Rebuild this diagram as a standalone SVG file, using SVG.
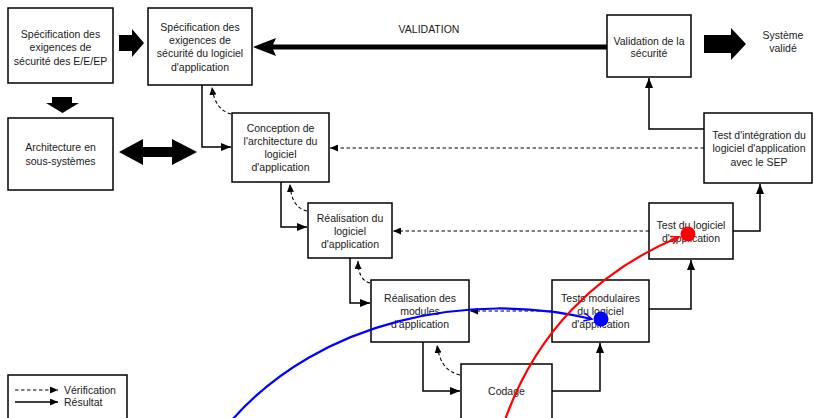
<svg xmlns="http://www.w3.org/2000/svg" width="814" height="418" viewBox="0 0 814 418">
  <style>
    .box { fill: #ffffff; stroke: #000000; stroke-width: 1.5; }
    .lbl { font-family: "Liberation Sans", Arial, Helvetica, sans-serif; font-size: 10.5px; fill: #1a1a1a; text-anchor: middle; }
    .lft { text-anchor: start; }
    .solid { fill: none; stroke: #000000; stroke-width: 1.5; }
    .dash { fill: none; stroke: #000000; stroke-width: 1.1; stroke-dasharray: 3.5 2.5; }
    .big { fill: #000000; stroke: none; }
  </style>
  <defs>
    <marker id="ah" viewBox="0 0 10 8" markerWidth="10" markerHeight="8" refX="10" refY="4" orient="auto" markerUnits="userSpaceOnUse">
      <path d="M0,0 L10,4 L0,8 z" fill="#000000"/>
    </marker>
    <marker id="ahd" viewBox="0 0 8 7" markerWidth="8" markerHeight="7" refX="8" refY="3.5" orient="auto" markerUnits="userSpaceOnUse">
      <path d="M0,0 L8,3.5 L0,7 z" fill="#000000"/>
    </marker>
    <marker id="ahBlue" viewBox="0 0 10 10" markerWidth="10" markerHeight="10" refX="9" refY="5" orient="auto" markerUnits="userSpaceOnUse">
      <path d="M1,1 L9,5 L1,9" fill="none" stroke="#0000ff" stroke-width="1.5"/>
    </marker>
    <marker id="ahRed" viewBox="0 0 10 10" markerWidth="10" markerHeight="10" refX="9" refY="5" orient="auto" markerUnits="userSpaceOnUse">
      <path d="M1,1 L9,5 L1,9" fill="none" stroke="#ff0000" stroke-width="1.5"/>
    </marker>
  </defs>

  <rect width="814" height="418" fill="#ffffff"/>

  <!-- connectors -->
  <g id="connectors">
    <!-- broad block arrows -->
    <path class="big" d="M119,35 H132 V29 L144,43 L132,57 V51 H119 z"/>
    <path class="big" d="M52,97 H72 V103 H79 L62.5,113 L46,103 H52 z"/>
    <path class="big" d="M119,152 L143,139 V147 H172 V139 L197,152 L172,165 V157 H143 V165 z"/>
    <path class="big" d="M704,35 H731 V28 L746,44 L731,60 V53 H704 z"/>
    <!-- validation feedback -->
    <line x1="607" y1="47" x2="270" y2="47" stroke="#000000" stroke-width="5"/>
    <path class="big" d="M253,47 L276,38 L272,47 L276,56 z"/>
    <text class="lbl" x="429" y="33">VALIDATION</text>

    <!-- results (solid) -->
    <path class="solid" marker-end="url(#ah)" d="M202,85 V147 H231"/>
    <path class="solid" marker-end="url(#ah)" d="M281,182 V227 H307"/>
    <path class="solid" marker-end="url(#ah)" d="M350,258 V303 H370"/>
    <path class="solid" marker-end="url(#ah)" d="M423,342 V391 H460"/>
    <path class="solid" marker-end="url(#ah)" d="M552,391 H600 V343"/>
    <path class="solid" marker-end="url(#ah)" d="M649,309 H691 V260"/>
    <path class="solid" marker-end="url(#ah)" d="M733,231 H760 V184"/>
    <path class="solid" marker-end="url(#ah)" d="M704,129 H649 V78"/>

    <!-- verifications (dashed) -->
    <path class="dash" marker-end="url(#ahd)" d="M231,114 C222,112 214,104 212,87"/>
    <path class="dash" marker-end="url(#ahd)" d="M307,211 C298,209 291,202 290,184"/>
    <path class="dash" marker-end="url(#ahd)" d="M370,283 C362,281 358,273 358,261"/>
    <path class="dash" marker-end="url(#ahd)" d="M460,375 C448,372 440,365 437,345"/>
    <path class="dash" marker-end="url(#ahd)" d="M704,148 H330"/>
    <path class="dash" marker-end="url(#ahd)" d="M649,231 H393"/>
    <path class="dash" marker-end="url(#ahd)" d="M552,311 H470"/>
  </g>

  <!-- nodes -->
  <g id="spec-eeep">
    <rect class="box" x="8" y="8" width="105" height="75"/>
    <text class="lbl" x="60.5" y="38">Spécification des</text>
    <text class="lbl" x="60.5" y="51">exigences de</text>
    <text class="lbl" x="60.5" y="65">sécurité des E/E/EP</text>
  </g>
  <g id="spec-logiciel">
    <rect class="box" x="148" y="8" width="104" height="77"/>
    <text class="lbl" x="200" y="31">Spécification des</text>
    <text class="lbl" x="200" y="44">exigences de</text>
    <text class="lbl" x="200" y="57">sécurité du logiciel</text>
    <text class="lbl" x="200" y="71">d'application</text>
  </g>
  <g id="architecture">
    <rect class="box" x="8" y="118" width="105" height="72"/>
    <text class="lbl" x="60.5" y="151">Architecture en</text>
    <text class="lbl" x="60.5" y="165">sous-systèmes</text>
  </g>
  <g id="conception">
    <rect class="box" x="232" y="113" width="97" height="69"/>
    <text class="lbl" x="280.5" y="132">Conception de</text>
    <text class="lbl" x="280.5" y="145">l'architecture du</text>
    <text class="lbl" x="280.5" y="158">logiciel</text>
    <text class="lbl" x="280.5" y="171">d'application</text>
  </g>
  <g id="realisation-logiciel">
    <rect class="box" x="308" y="203" width="84" height="55"/>
    <text class="lbl" x="350" y="222">Réalisation du</text>
    <text class="lbl" x="350" y="235">logiciel</text>
    <text class="lbl" x="350" y="248">d'application</text>
  </g>
  <g id="realisation-modules">
    <rect class="box" x="371" y="280" width="98" height="62"/>
    <text class="lbl" x="420" y="302">Réalisation des</text>
    <text class="lbl" x="420" y="315">modules</text>
    <text class="lbl" x="420" y="328">d'application</text>
  </g>
  <g id="codage">
    <rect class="box" x="461" y="364" width="91" height="70"/>
    <text class="lbl" x="506.5" y="395">Codage</text>
  </g>
  <g id="tests-modulaires">
    <rect class="box" x="552" y="280" width="97" height="62"/>
    <text class="lbl" x="600.5" y="302">Tests modulaires</text>
    <text class="lbl" x="600.5" y="315">du logiciel</text>
    <text class="lbl" x="600.5" y="328">d'application</text>
  </g>
  <g id="test-logiciel">
    <rect class="box" x="649" y="203" width="84" height="56"/>
    <text class="lbl" x="691" y="229">Test du logiciel</text>
    <text class="lbl" x="691" y="242">d'application</text>
  </g>
  <g id="test-integration">
    <rect class="box" x="704" y="113" width="108" height="70"/>
    <text class="lbl" x="759" y="139">Test d'intégration du</text>
    <text class="lbl" x="759" y="152">logiciel d'application</text>
    <text class="lbl" x="759" y="166">avec le SEP</text>
  </g>
  <g id="validation">
    <rect class="box" x="607" y="15" width="84" height="62"/>
    <text class="lbl" x="649" y="45">Validation de la</text>
    <text class="lbl" x="649" y="57">sécurité</text>
  </g>
  <g id="systeme-valide">
    <text class="lbl" x="783" y="39">Système</text>
    <text class="lbl" x="783" y="52">validé</text>
  </g>

  <!-- legend -->
  <g id="legend">
    <rect class="box" x="8" y="375" width="119" height="60"/>
    <path class="dash" marker-end="url(#ahd)" d="M15,390 H58"/>
    <path class="solid" marker-end="url(#ahd)" d="M15,402 H58" stroke-width="1.1"/>
    <text class="lbl lft" x="64" y="394">Vérification</text>
    <text class="lbl lft" x="64" y="406">Résultat</text>
  </g>

  <!-- coloured overlay strokes -->
  <g id="overlay">
    <path d="M232,420 C320,320 470,290 592,319" fill="none" stroke="#0000ff" stroke-width="2.2" marker-end="url(#ahBlue)"/>
    <circle cx="601" cy="319" r="7.5" fill="#0000ff"/>
    <path d="M505,420 C535,335 595,272 679,237" fill="none" stroke="#ff0000" stroke-width="2.2" marker-end="url(#ahRed)"/>
    <circle cx="688" cy="234" r="7.5" fill="#ff0000"/>
  </g>
</svg>
